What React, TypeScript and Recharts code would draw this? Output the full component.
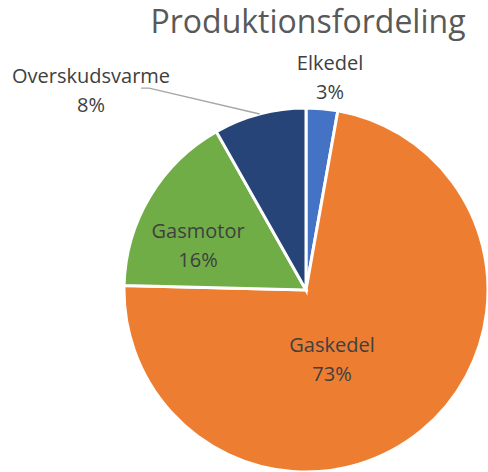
import { Cell, Pie, PieChart } from 'recharts'

const NAMES = ['Elkedel', 'Gaskedel', 'Gasmotor', 'Overskudsvarme']
const SHARES = [2.8, 72.6, 16.4, 8.2]
const COLORS = ['#4472c4', '#ed7d31', '#70ad47', '#264478']

const DATA = NAMES.map((name, i) => ({ name, value: SHARES[i] }))

const FONT = '"Open Sans", "Liberation Sans", sans-serif'
const LABEL = '#404040'

// Excel "best fit" label spots (first baseline), as fractions of the radius from the centre
const LABEL_POS: Record<string, [number, number]> = {
  Elkedel: [0.132, -1.209],
  Gaskedel: [0.143, 0.341],
  Gasmotor: [-0.593, -0.286],
  Overskudsvarme: [-1.181, -1.137],
}

function renderLabel(props: any) {
  const { cx, cy, outerRadius, midAngle, name, percent } = props
  const [fx, fy] = LABEL_POS[name]
  const x = cx + fx * outerRadius
  const y = cy + fy * outerRadius
  const pct = `${Math.round(percent * 100)}%`
  let leader = null
  if (name === 'Overskudsvarme') {
    const rad = (-midAngle * Math.PI) / 180
    const ex = cx + outerRadius * Math.cos(rad)
    const ey = cy + outerRadius * Math.sin(rad)
    leader = (
      <polyline
        points={`${x + 50},${y + 5} ${x + 58},${y + 5} ${ex},${ey}`}
        fill="none"
        stroke="#a6a6a6"
        strokeWidth={1.3}
      />
    )
  }
  return (
    <g>
      {leader}
      <text x={x} y={y} textAnchor="middle" fill={LABEL} fontSize={20} fontFamily={FONT}>
        <tspan x={x} y={y}>{name}</tspan>
        <tspan x={x} y={y + 29}>{pct}</tspan>
      </text>
    </g>
  )
}

export default function App() {
  return (
    <div style={{ position: 'absolute', left: 0, top: 0, width: 488, height: 472, background: '#fff', overflow: 'hidden' }}>
      <div
        style={{
          position: 'absolute',
          left: 0,
          right: 0,
          top: -1,
          paddingLeft: 128,
          textAlign: 'center',
          fontFamily: FONT,
          fontSize: 32,
          color: '#595959',
          whiteSpace: 'nowrap',
        }}
      >
        Produktionsfordeling
      </div>
      <PieChart
        width={488}
        height={472}
        margin={{ top: 0, right: 0, bottom: 0, left: 0 }}
        style={{ position: 'absolute', left: 0, top: 0 }}
      >
        <Pie
          data={DATA}
          dataKey="value"
          nameKey="name"
          cx={306}
          cy={290}
          outerRadius={182}
          startAngle={90}
          endAngle={-270}
          stroke="#fff"
          strokeWidth={3}
          label={renderLabel}
          labelLine={false}
          isAnimationActive={false}
        >
          {DATA.map((d, i) => (
            <Cell key={d.name} fill={COLORS[i]} />
          ))}
        </Pie>
      </PieChart>
    </div>
  )
}
